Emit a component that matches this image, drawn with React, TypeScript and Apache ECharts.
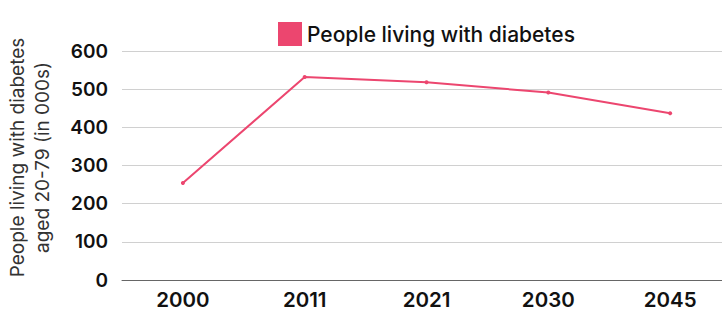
import React, { useEffect, useRef } from "react";
import * as echarts from "echarts";

const years = ["2000", "2011", "2021", "2030", "2045"];
const diabetes = [254, 532, 518, 491, 437];
const seriesName = "People living with diabetes";
const yTicks = { min: 0, max: 600, interval: 100 };

export default function App() {
  const ref = useRef<HTMLDivElement>(null);
  useEffect(() => {
    document.body.style.margin = "0";
    const chart = echarts.init(ref.current!, null, { renderer: "svg" });
    const font = "Inter";
    chart.setOption({
      animation: false,
      textStyle: { fontFamily: font },
      legend: {
        data: [seriesName],
        left: 273,
        top: 17,
        icon: "rect",
        itemWidth: 24,
        itemHeight: 24,
        itemGap: 6,
        textStyle: { fontFamily: font, fontSize: 21, fontWeight: 500, color: "#111" },
      },
      grid: { left: 122, right: -9, top: 51, bottom: 31, containLabel: false, outerBoundsMode: "none" },
      xAxis: {
        type: "category",
        data: years,
        boundaryGap: true,
        axisTick: { show: false },
        axisLine: { lineStyle: { color: "#666", width: 1 } },
        axisLabel: { fontFamily: font, fontSize: 20.5, fontWeight: 600, color: "#111", margin: 9 },
      },
      yAxis: {
        type: "value",
        min: yTicks.min,
        max: yTicks.max,
        interval: yTicks.interval,
        name: "People living with diabetes\naged 20-79 (in 000s)",
        nameLocation: "middle",
        nameRotate: 90,
        nameGap: 67,
        nameTextStyle: { fontFamily: font, fontSize: 19, color: "#333", lineHeight: 25, padding: [0, 0, 0, 16] },
        axisLine: { show: false },
        axisTick: { show: false },
        axisLabel: { fontFamily: font, fontSize: 19, fontWeight: 600, color: "#111", margin: 14 },
        splitLine: { lineStyle: { color: "#d0d0d0", width: 1 } },
      },
      series: [
        {
          name: seriesName,
          type: "line",
          data: diabetes,
          color: "#ec466f",
          lineStyle: { width: 2, color: "#ec466f" },
          symbol: "circle",
          symbolSize: 4,
          itemStyle: { color: "#ec466f" },
        },
      ],
    });
    return () => chart.dispose();
  }, []);
  return <div ref={ref} style={{ width: 722, height: 311 }} />;
}
